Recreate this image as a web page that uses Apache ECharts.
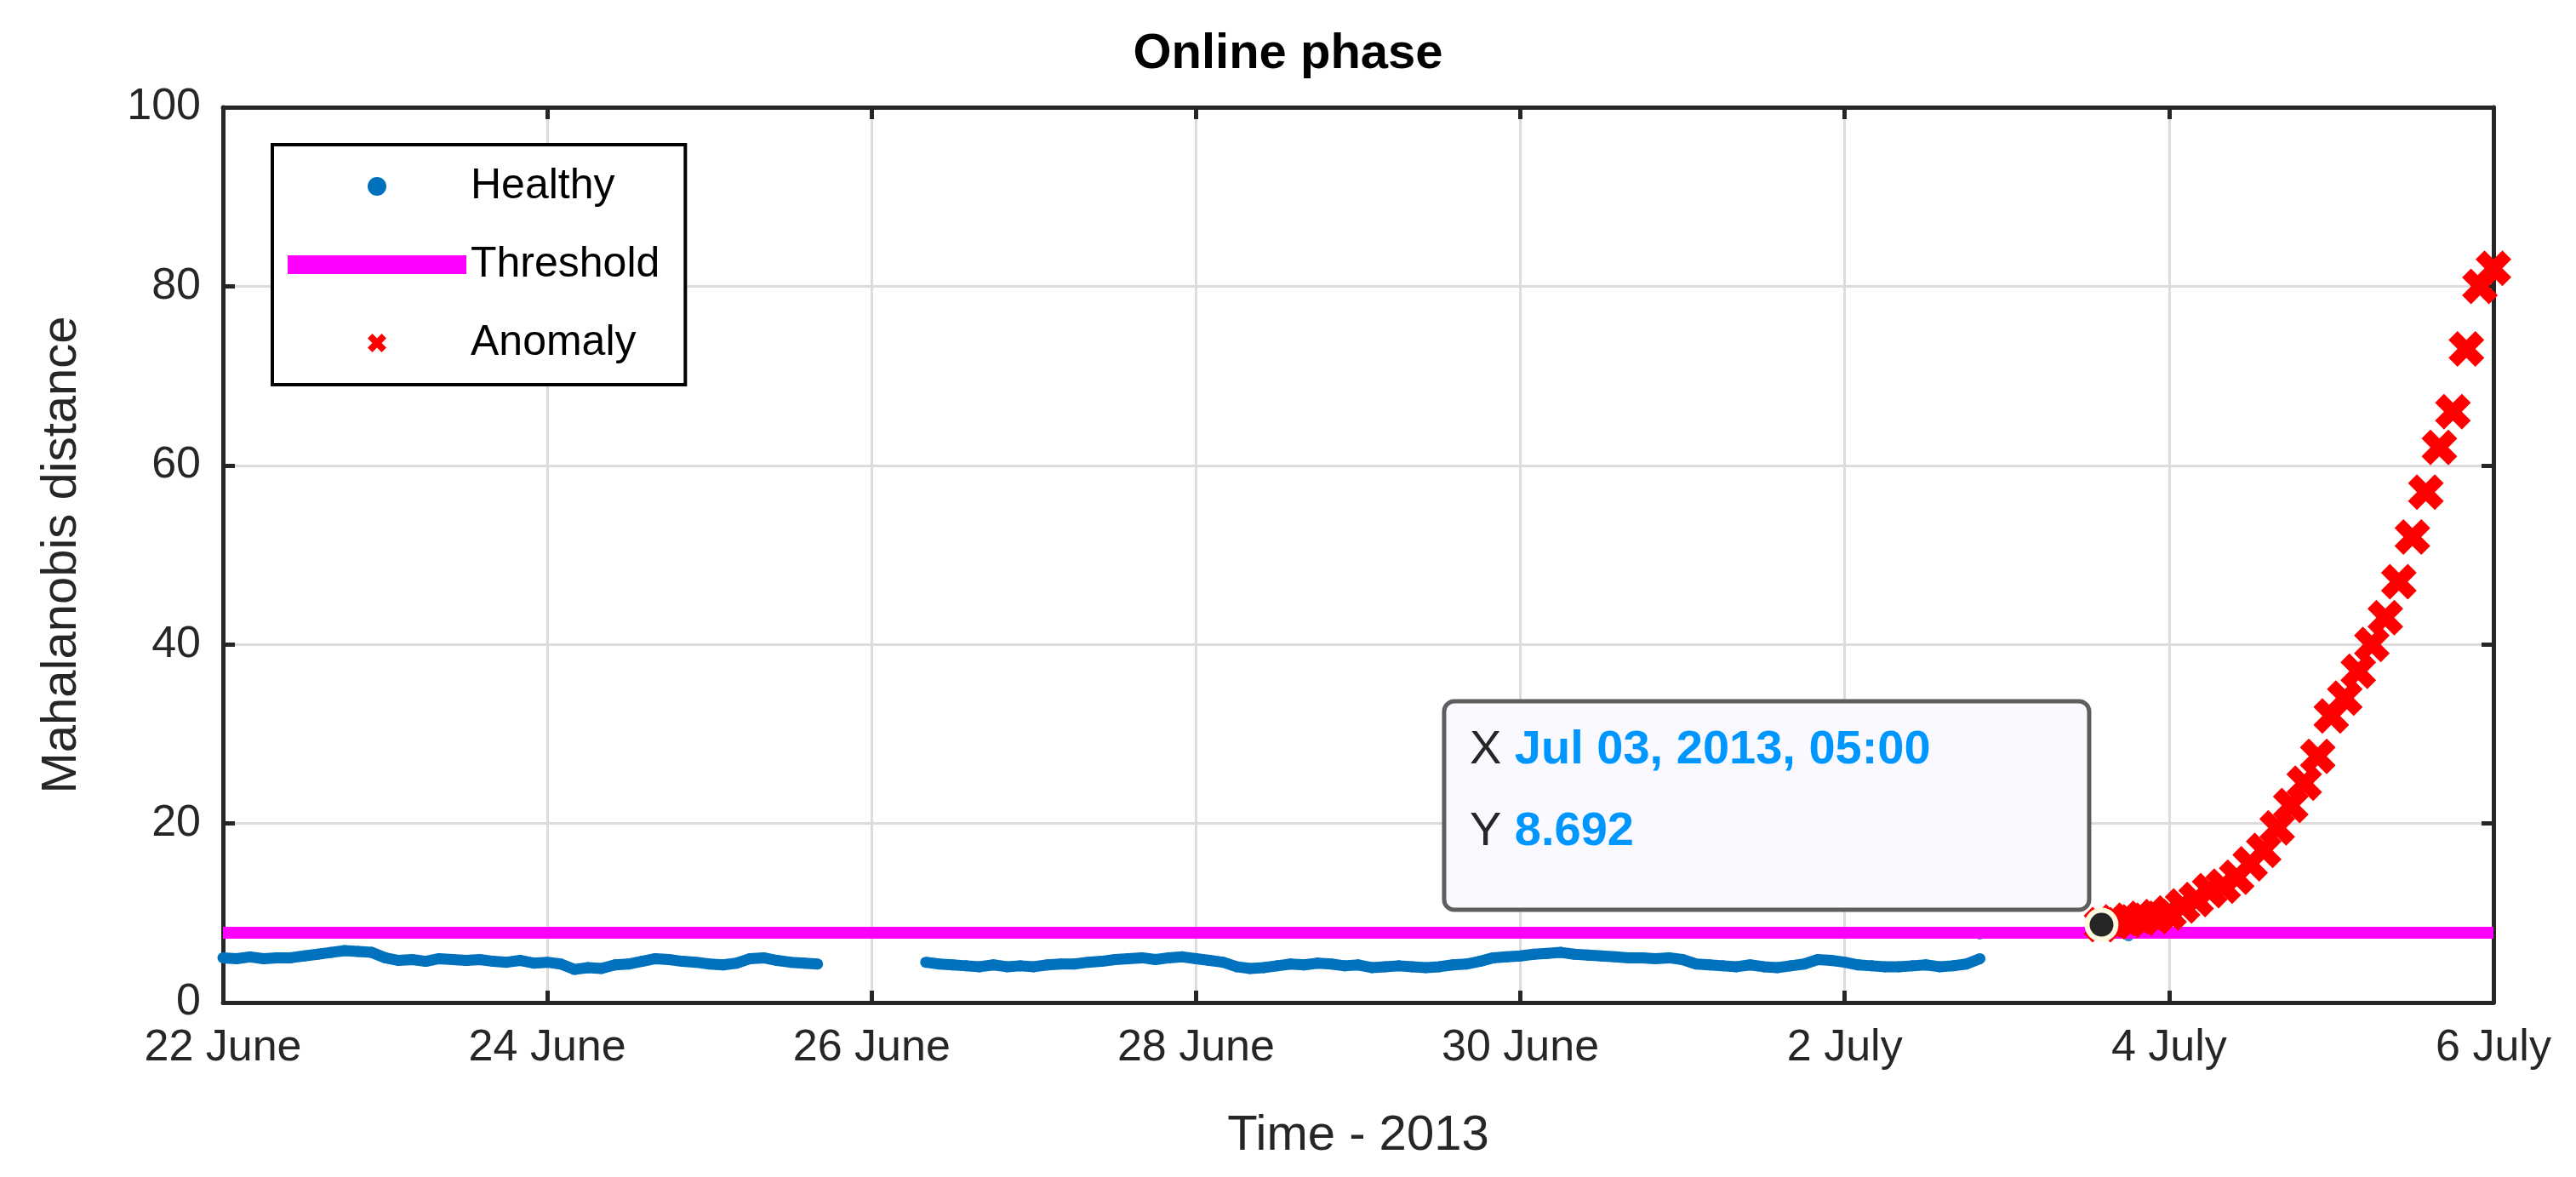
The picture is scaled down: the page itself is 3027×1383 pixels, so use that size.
<!DOCTYPE html>
<html>
<head>
<meta charset="utf-8">
<script src="https://cdn.jsdelivr.net/npm/echarts@6/dist/echarts.min.js"></script>
<style>
html,body{margin:0;padding:0;background:#fff;}
#main{width:3027px;height:1383px;}
</style>
</head>
<body>
<div id="main"></div>
<script>
// 2 hour steps, UTC times
var STEP = 2 * 3600 * 1000;
var DAY = 24 * 3600 * 1000;
var healthyStart1 = Date.UTC(2013, 5, 22, 0);
var healthy1 = [
	5.0, 4.9, 5.1, 4.9, 5.0, 5.0, 5.2, 5.4, 5.6, 5.8, 5.7, 5.6,
	5.0, 4.7, 4.8, 4.6, 4.9, 4.8, 4.7, 4.8, 4.6, 4.5, 4.7, 4.4,
	4.5, 4.3, 3.7, 3.9, 3.8, 4.2, 4.3, 4.6, 4.9, 4.8, 4.6, 4.5,
	4.3, 4.2, 4.4, 4.9, 5.0, 4.7, 4.5, 4.4, 4.3
];
var healthyStart2 = Date.UTC(2013, 5, 26, 8);
var healthy2 = [
	4.5, 4.3, 4.2, 4.1, 4.0, 4.2, 4.0, 4.1,
	4.0, 4.2, 4.3, 4.3, 4.5, 4.6, 4.8, 4.9, 5.0, 4.8, 5.0, 5.1,
	4.9, 4.7, 4.5, 4.0, 3.8, 3.9, 4.1, 4.3, 4.2, 4.4, 4.3, 4.1,
	4.2, 3.9, 4.0, 4.1, 4.0, 3.9, 4.0, 4.2, 4.3, 4.6, 5.0, 5.1,
	5.2, 5.4, 5.5, 5.6, 5.4, 5.3, 5.2, 5.1, 5.0, 5.0, 4.9, 5.0,
	4.8, 4.3, 4.2, 4.1, 4.0, 4.2, 4.0, 3.9, 4.1, 4.3, 4.8, 4.7,
	4.5, 4.2, 4.1, 4.0, 4.0, 4.1, 4.2, 4.0, 4.1, 4.3, 4.9
];
var healthyExtra = [[Date.UTC(2013, 6, 2, 20), 7.6], [Date.UTC(2013, 6, 3, 18), 7.4]];
var anomalyStart = Date.UTC(2013, 6, 3, 14);
var anomaly = [
	8.7, 9.0, 9.2, 9.4, 9.6,
	10.0, 10.8, 11.5, 12.5, 13.0, 14.0, 15.5, 17.0, 19.5, 22.0, 24.5, 27.5,
	32, 34, 37, 40, 43, 47, 52, 57, 62, 66, 73, 80,
	82
];
var threshold = 7.8;
var tipPoint = [anomalyStart, 8.692];
var xMin = Date.UTC(2013, 5, 22);
var xMax = Date.UTC(2013, 6, 6);
var monthNames = ["January","February","March","April","May","June","July","August","September","October","November","December"];

function toSeries(start, vals) {
	var out = [];
	for (var i = 0; i < vals.length; i++) out.push([start + i * STEP, vals[i]]);
	return out;
}
var healthyData = toSeries(healthyStart1, healthy1);
healthyData.push([healthyStart1 + healthy1.length * STEP, null]);
healthyData = healthyData.concat(toSeries(healthyStart2, healthy2));

var xPath = 'path://M0,2.5 L2.5,0 L5,2.5 L7.5,0 L10,2.5 L7.5,5 L10,7.5 L7.5,10 L5,7.5 L2.5,10 L0,7.5 L2.5,5 Z';
var font = 'Liberation Sans, Arial, sans-serif';
var axisCol = '#262626';

var myEchart = echarts.init(document.getElementById('main'));
var option = {
	backgroundColor: '#fff',
	animation: false,
	title: {
		text: 'Online phase', left: 'center', top: 30,
		textStyle: {fontFamily: font, fontWeight: 'bold', fontSize: 58, color: '#000'}
	},
	grid: {left: 262, right: 97, top: 126, bottom: 205},
	legend: {
		orient: 'vertical', left: 320, top: 170, padding: [24, 30, 24, 18],
		borderColor: '#000', borderWidth: 4, backgroundColor: '#fff',
		itemWidth: 210, itemHeight: 22, itemGap: 42,
		textStyle: {fontFamily: font, fontSize: 50, color: '#000'},
		data: [
			{name: 'Healthy', icon: 'circle', itemStyle: {color: '#0072bd'}},
			{name: 'Threshold', icon: 'rect', itemStyle: {color: '#ff00ff'}},
			{name: 'Anomaly', icon: xPath, itemStyle: {color: '#ff0000'}}
		]
	},
	xAxis: [{
		type: 'value', min: xMin, max: xMax, interval: 2 * DAY,
		name: 'Time - 2013', nameLocation: 'middle', nameGap: 128,
		nameTextStyle: {fontFamily: font, fontSize: 58, color: axisCol},
		axisLine: {onZero: false, lineStyle: {color: axisCol, width: 5}},
		axisTick: {inside: true, length: 14, lineStyle: {color: axisCol, width: 5}},
		splitLine: {show: true, lineStyle: {color: '#dcdcdc', width: 3}},
		axisLabel: {
			fontFamily: font, fontSize: 52, color: axisCol, margin: 28,
			showMinLabel: true, showMaxLabel: true,
			formatter: function(v) { var d = new Date(v); return d.getUTCDate() + ' ' + monthNames[d.getUTCMonth()]; }
		}
	}, {
		type: 'value', min: xMin, max: xMax, interval: 2 * DAY, position: 'top',
		axisLine: {onZero: false, lineStyle: {color: axisCol, width: 5}},
		axisTick: {inside: true, length: 14, lineStyle: {color: axisCol, width: 5}},
		axisLabel: {show: false}, splitLine: {show: false}
	}],
	yAxis: [{
		type: 'value', min: 0, max: 100, interval: 20,
		name: 'Mahalanobis distance', nameLocation: 'middle', nameGap: 160,
		nameTextStyle: {fontFamily: font, fontSize: 58, color: axisCol},
		axisLine: {show: true, onZero: false, lineStyle: {color: axisCol, width: 5}},
		axisTick: {show: true, inside: true, length: 14, lineStyle: {color: axisCol, width: 5}},
		splitLine: {show: true, lineStyle: {color: '#dcdcdc', width: 3}},
		axisLabel: {fontFamily: font, fontSize: 52, color: axisCol, margin: 26}
	}, {
		type: 'value', min: 0, max: 100, interval: 20, position: 'right',
		axisLine: {show: true, onZero: false, lineStyle: {color: axisCol, width: 5}},
		axisTick: {show: true, inside: true, length: 14, lineStyle: {color: axisCol, width: 5}},
		axisLabel: {show: false}, splitLine: {show: false}
	}],
	series: [
		{
			name: 'Healthy', type: 'line', data: healthyData, connectNulls: false,
			symbol: 'circle', symbolSize: 13, showSymbol: true,
			itemStyle: {color: '#0072bd'}, lineStyle: {color: '#0072bd', width: 13}, z: 2
		},
		{
			name: 'HealthyExtra', type: 'scatter', data: healthyExtra, symbolSize: 12,
			itemStyle: {color: '#0072bd'}, z: 2
		},
		{
			name: 'Threshold', type: 'line', data: [[xMin, threshold], [xMax, threshold]],
			symbol: 'none', lineStyle: {color: '#ff00ff', width: 14}, itemStyle: {color: '#ff00ff'}, z: 3
		},
		{
			name: 'Anomaly', type: 'scatter', data: toSeries(anomalyStart, anomaly),
			symbol: xPath, symbolSize: 42, itemStyle: {color: '#ff0000', opacity: 1}, z: 4
		},
		{
			name: 'tip', type: 'scatter', data: [tipPoint], symbolSize: 34,
			itemStyle: {color: '#262626', borderColor: '#fffbe0', borderWidth: 6, opacity: 1}, z: 6
		}
	]
};
myEchart.setOption(option);

// data tip box next to the marked point
var p = myEchart.convertToPixel({gridIndex: 0}, tipPoint);
myEchart.setOption({
	graphic: [{
		type: 'group', left: p[0] - 775, top: p[1] - 265, z: 10,
		children: [
			{type: 'rect', shape: {x: 0, y: 0, width: 758, height: 245, r: 12},
				style: {fill: '#f9f9ff', stroke: '#5e5e5e', lineWidth: 5}},
			{type: 'text', left: 30, top: 30, style: {
				text: '{a|X }{b|Jul 03, 2013, 05:00}\n{a|Y }{b|8.692}',
				rich: {
					a: {fontFamily: font, fontSize: 56, fill: '#262626', lineHeight: 96},
					b: {fontFamily: font, fontSize: 56, fontWeight: 'bold', fill: '#0096ff', lineHeight: 96}
				}
			}}
		]
	}]
});
</script>
</body>
</html>
